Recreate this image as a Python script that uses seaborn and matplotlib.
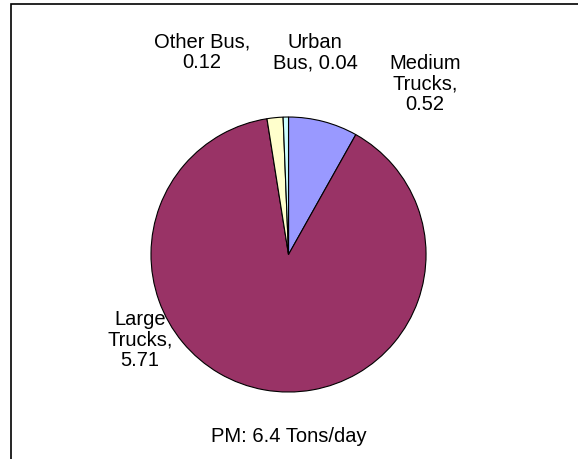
import numpy as np
import matplotlib.pyplot as plt
import seaborn as sns
from matplotlib.patches import Rectangle

# PM emissions by vehicle class (tons/day)
categories = ["Medium\nTrucks", "Large\nTrucks", "Other Bus", "Urban\nBus"]
values = [0.52, 5.71, 0.12, 0.04]
colors = ["#9999FF", "#993366", "#FFFFCC", "#CCFFFF"]
total_label = "PM: 6.4 Tons/day"

sns.set_theme(style="white")
plt.rcParams['font.family'] = ['Liberation Sans', 'DejaVu Sans']

fig = plt.figure(figsize=(5.78, 4.59), dpi=100)
ax = fig.add_axes([0, 0, 1, 1])

ax.pie(values, colors=colors, startangle=90, counterclock=False,
       radius=1.0, wedgeprops=dict(edgecolor="black", linewidth=0.8))

# pixel-matched limits (1 unit = pie radius)
ax.set_xlim(-2.098, 2.105)
ax.set_ylim(-1.487, 1.851)
ax.set_aspect("auto")
ax.axis("off")

# data labels placed like the original
label_pos = [(0.993, 1.24), (-1.08, -0.622), (-0.629, 1.469), (0.193, 1.469)]
label_text = ["Medium\nTrucks,\n0.52", "Large\nTrucks,\n5.71",
              "Other Bus,\n0.12", "Urban\nBus, 0.04"]
for (x, y), t in zip(label_pos, label_text):
    ax.text(x, y, t, ha="center", va="center", fontsize=14.5,
            linespacing=1.12, color="black")

ax.text(0, -1.327, total_label, ha="center", va="center", fontsize=14.5,
        color="black")

# chart frame (open to the right/bottom like the source crop)
fig.patches.append(Rectangle((10.5 / 578, -0.05), 1.0, 0.05 + (459 - 4) / 459,
                             transform=fig.transFigure, fill=False,
                             edgecolor="black", linewidth=1.2))

fig.savefig("out.png", dpi=100)
